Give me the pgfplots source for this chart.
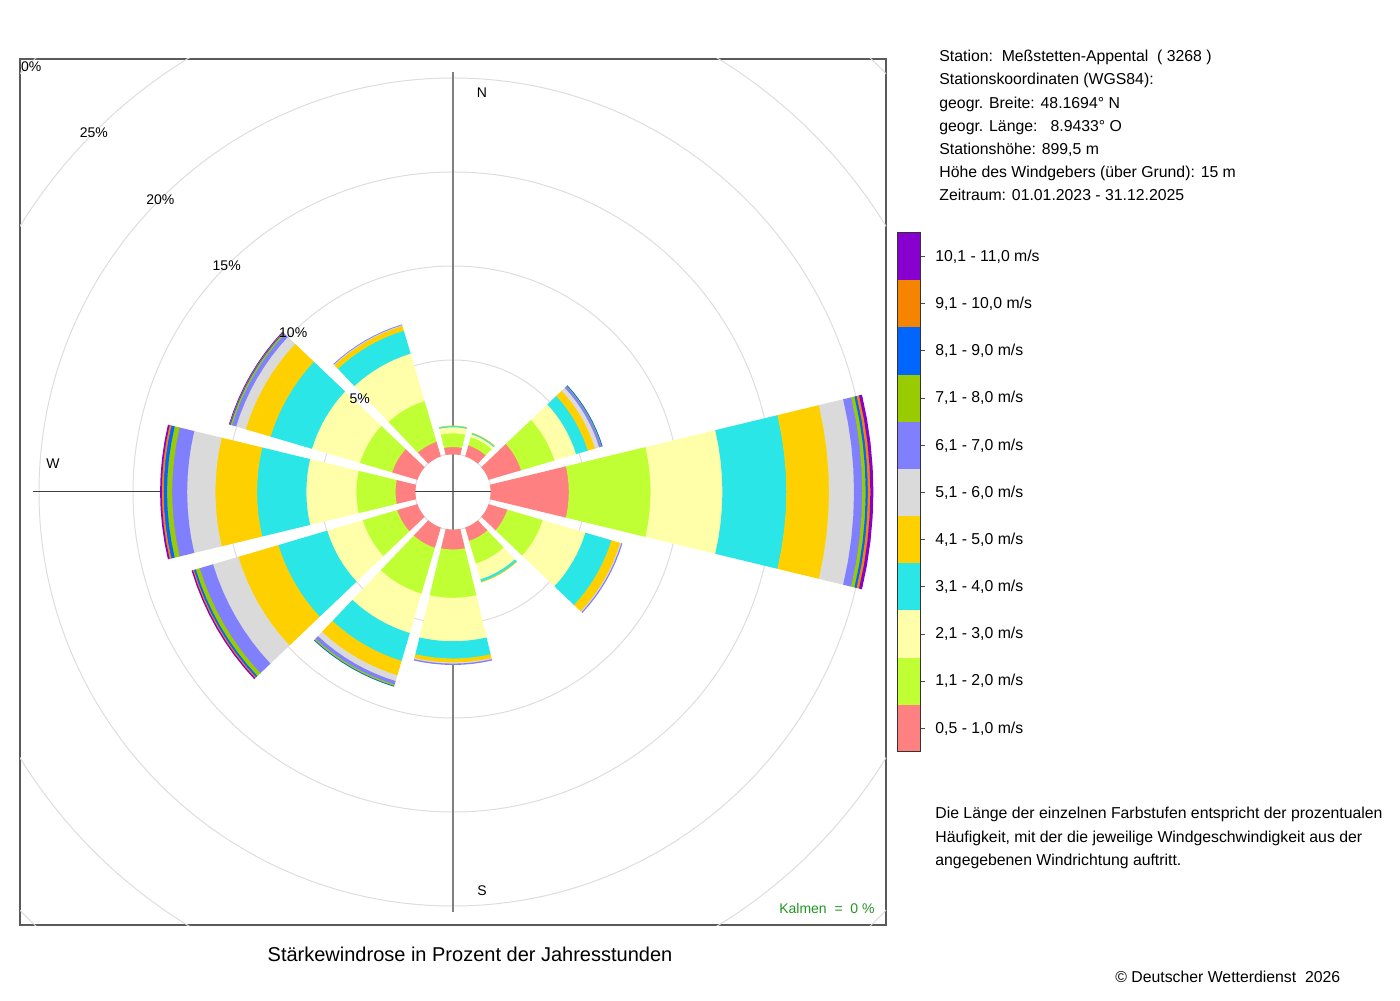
\documentclass[border=0pt]{standalone}
\usepackage{fontspec}
\setmainfont{Liberation Sans}
\usepackage{pgfplots}
\pgfplotsset{compat=1.18}
\usepackage{pgfplotstable}

\definecolor{wc1}{RGB}{255,128,128}
\definecolor{wc2}{RGB}{191,255,51}
\definecolor{wc3}{RGB}{255,255,170}
\definecolor{wc4}{RGB}{42,230,230}
\definecolor{wc5}{RGB}{255,208,0}
\definecolor{wc6}{RGB}{218,218,218}
\definecolor{wc7}{RGB}{128,128,255}
\definecolor{wc8}{RGB}{153,204,0}
\definecolor{wc9}{RGB}{0,102,255}
\definecolor{wc10}{RGB}{245,132,0}
\definecolor{wc11}{RGB}{136,0,208}
\definecolor{gridgray}{RGB}{221,221,221}
\definecolor{framegray}{RGB}{90,90,90}
\definecolor{kalmgreen}{RGB}{34,150,34}

% percent of hours per direction (compass degrees) and speed class
\pgfplotstableread{
dir c1 c2 c3 c4 c5 c6 c7 c8 c9 c10 c11
0   0.39 0.73 0.32 0.06 0.01 0 0 0 0 0 0
30  0.61 0.46 0.15 0.06 0.01 0 0 0 0 0 0
60  1.80 1.85 1.20 0.65 0.40 0.23 0.12 0.03 0.02 0 0
90  4.16 4.35 3.82 3.40 2.27 1.33 0.44 0.18 0.12 0.13 0.14
120 1.04 1.96 2.37 1.44 0.49 0.06 0.04 0 0 0 0
150 0.74 1.26 0.87 0.13 0.02 0 0 0 0 0 0
180 1.06 2.57 2.31 0.92 0.21 0.06 0.05 0 0 0 0
210 1.12 2.55 2.18 1.54 0.80 0.32 0.19 0.08 0.02 0 0
240 1.12 1.91 1.97 2.71 2.22 1.40 0.74 0.22 0.10 0.06 0.05
270 1.06 2.08 2.66 2.62 2.22 1.50 0.80 0.27 0.18 0.10 0.07
300 1.40 1.79 2.66 2.29 1.38 0.53 0.23 0.08 0.04 0.02 0.01
330 0.81 2.26 2.63 1.27 0.27 0.04 0.02 0 0 0 0
}\windtable

\begin{document}
\begin{tikzpicture}
\useasboundingbox (0,0) rectangle (700pt,500pt);
\begin{axis}[
  at={(10pt,37.5pt)}, anchor=south west,
  scale only axis, width=433pt, height=433pt,
  xmin=-433, xmax=433, ymin=-433, ymax=433,
  xtick=\empty, ytick=\empty,
  axis line style={draw=framegray, line width=0.6pt},
]
% grid circles
\begin{scope}
\clip (rel axis cs:0,0) rectangle (rel axis cs:1,1);
\foreach \r in {132,226,320,414,508,602}{
  \edef\temp{\noexpand\draw[gridgray, line width=0.5pt] (axis cs:0,0) circle[radius=\r];}\temp
}
\end{scope}
\draw[gridgray, line width=0.5pt] (axis cs:0,0) circle[radius=38];
\draw[gray, line width=0.7pt] (axis cs:0,-420) -- (axis cs:0,420);
\draw[black!75, line width=0.5pt] (axis cs:-420,0) -- (axis cs:420,0);

% bars
\foreach \d in {0,...,11}{%
  \pgfplotstablegetelem{\d}{dir}\of\windtable
  \pgfmathsetmacro\ang{\pgfplotsretval}%
  \gdef\cum{0}%
  \foreach \k in {1,...,11}{%
    \pgfplotstablegetelem{\d}{c\k}\of\windtable
    \let\val\pgfplotsretval
    \pgfmathsetmacro\rin{38+18.8*\cum-0.4}%
    \pgfmathsetmacro\newcum{\cum+\val}%
    \xdef\cum{\newcum}%
    \pgfmathsetmacro\rout{38+18.8*\cum}%
    \pgfmathtruncatemacro\flag{\val>0.005}%
    \ifnum\flag=1
      \pgfmathsetmacro\ho{13.6-asin(1.6/\rout)}%
      \pgfmathsetmacro\hi{13.6-asin(1.6/\rin)}%
      \gdef\coords{}%
      \foreach \i in {0,...,8}{%
        \pgfmathsetmacro\t{\ang-\ho+\i*\ho/4}%
        \pgfmathsetmacro\px{\rout*sin(\t)}%
        \pgfmathsetmacro\py{\rout*cos(\t)}%
        \xdef\coords{\coords(\px,\py)}%
      }%
      \foreach \i in {0,...,8}{%
        \pgfmathsetmacro\t{\ang+\hi-\i*\hi/4}%
        \pgfmathsetmacro\px{\rin*sin(\t)}%
        \pgfmathsetmacro\py{\rin*cos(\t)}%
        \xdef\coords{\coords(\px,\py)}%
      }%
      \edef\temp{\noexpand\addplot[fill=wc\k, draw=none, forget plot] coordinates {\coords};}%
      \temp
    \fi
  }%
}

% labels
\node[font=\fontsize{7}{8}\selectfont] at (axis cs:29,399) {N};
\node[font=\fontsize{7}{8}\selectfont] at (axis cs:29,-399) {S};
\node[font=\fontsize{7}{8}\selectfont] at (axis cs:-400,28) {W};
\node[font=\fontsize{7}{8}\selectfont] at (axis cs:-93.3,93.3) {5\%};
\node[font=\fontsize{7}{8}\selectfont] at (axis cs:-159.8,159.8) {10\%};
\node[font=\fontsize{7}{8}\selectfont] at (axis cs:-226.3,226.3) {15\%};
\node[font=\fontsize{7}{8}\selectfont] at (axis cs:-292.7,292.7) {20\%};
\node[font=\fontsize{7}{8}\selectfont] at (axis cs:-359.2,359.2) {25\%};
\node[font=\fontsize{7}{8}\selectfont] at (axis cs:-425.7,425.7) {30\%};
\node[font=\fontsize{7}{8}\selectfont, text=kalmgreen, anchor=east, inner sep=0pt] at (axis cs:422,-416) {Kalmen\ \ =\ \ 0 \%};
\end{axis}

\begin{scope}[x=0.5pt, y=-0.5pt, shift={(0,500pt)}]
  % info text
  \begin{scope}[every node/.style={anchor=base west, inner sep=0pt, font=\fontsize{7.9}{9.5}\selectfont}]
    \node at (939,61.5) {Station:\ \ Meßstetten-Appental\ \ ( 3268 )};
    \node at (939,84.8) {Stationskoordinaten (WGS84):};
    \node at (939,108.2) {geogr. Breite: 48.1694° N};
    \node at (939,131.5) {geogr. Länge:\ \ \ 8.9433° O};
    \node at (939,154.8) {Stationshöhe: 899,5 m};
    \node at (939,177.5) {Höhe des Windgebers (über Grund): 15 m};
    \node at (939,200.5) {Zeitraum: 01.01.2023 - 31.12.2025};
    \node at (935,819) {Die Länge der einzelnen Farbstufen entspricht der prozentualen};
    \node at (935,843) {Häufigkeit, mit der die jeweilige Windgeschwindigkeit aus der};
    \node at (935,866) {angegebenen Windrichtung auftritt.};
    \node at (1115,982) {© Deutscher Wetterdienst\ \ 2026};
  \end{scope}
  \node[anchor=base, inner sep=0pt, font=\fontsize{10}{12}\selectfont] at (470,961) {Stärkewindrose in Prozent der Jahresstunden};
  % colour bar
  \foreach \k/\lab in {1/{0,5 - 1,0 m/s},2/{1,1 - 2,0 m/s},3/{2,1 - 3,0 m/s},4/{3,1 - 4,0 m/s},5/{4,1 - 5,0 m/s},6/{5,1 - 6,0 m/s},7/{6,1 - 7,0 m/s},8/{7,1 - 8,0 m/s},9/{8,1 - 9,0 m/s},10/{9,1 - 10,0 m/s},11/{10,1 - 11,0 m/s}}{
    \pgfmathsetmacro\yt{233+(11-\k)*47.18}
    \pgfmathsetmacro\yb{\yt+47.18}
    \pgfmathsetmacro\yc{\yt+23.59}
    \fill[wc\k] (897,\yt) rectangle (920,\yb);
    \draw[black!70, line width=0.5pt] (920,\yc) -- (925,\yc);
    \node[anchor=west, inner sep=0pt, font=\fontsize{7.9}{9.5}\selectfont] at (935,\yc) {\lab};
  }
  \draw[black!80, line width=0.5pt] (897,233) rectangle (920,752);
\end{scope}
\end{tikzpicture}
\end{document}
